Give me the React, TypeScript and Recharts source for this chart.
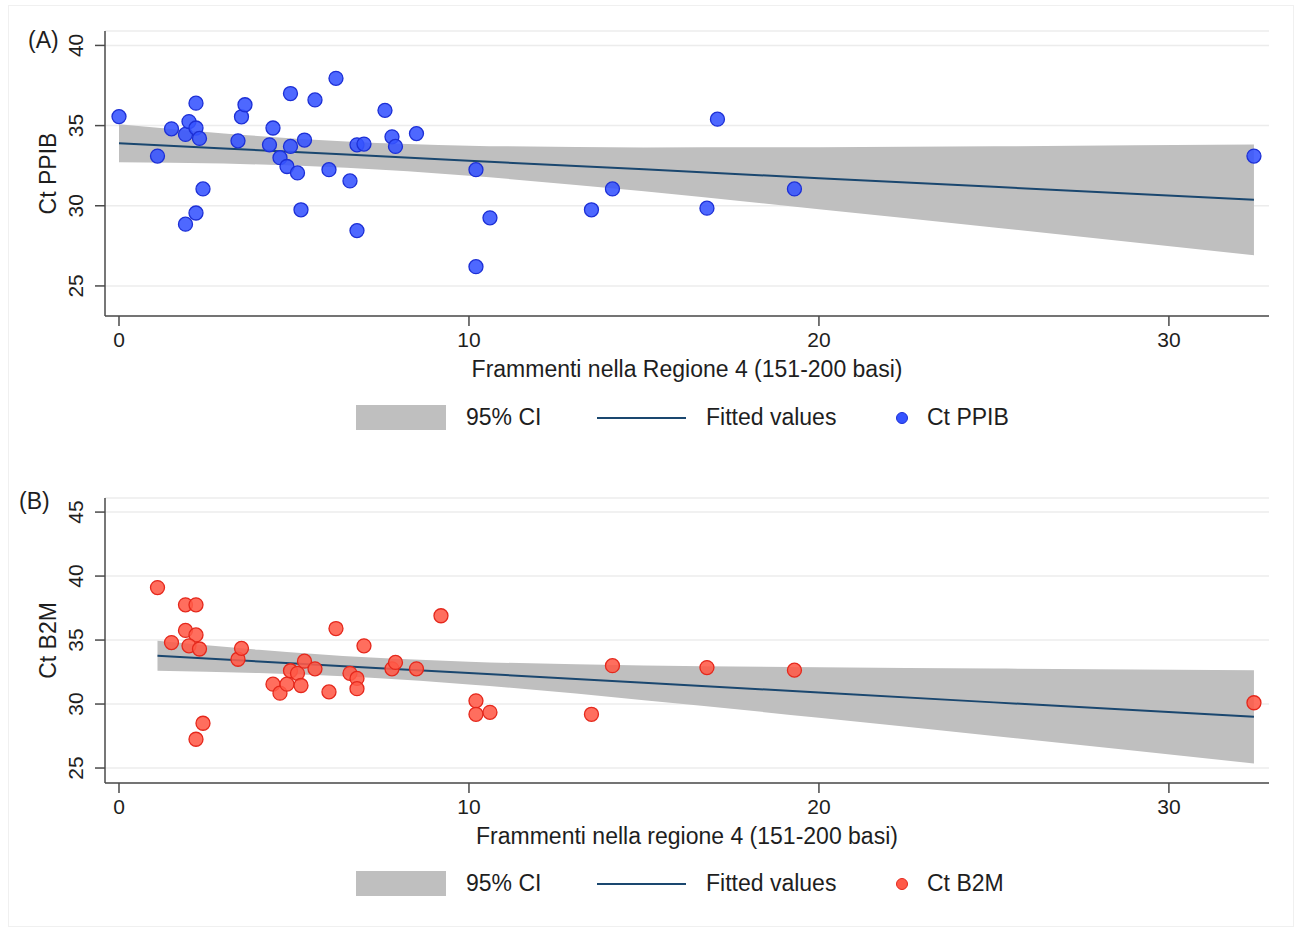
import { ComposedChart, Area, Line, Scatter, XAxis, YAxis, CartesianGrid } from 'recharts';

const FONT = '"Liberation Sans", Arial, Helvetica, sans-serif';
const TEXT = '#1e1e1e';
const AXIS = '#4a4a4a';
const BAND = '#bfbfbf';
const FIT = '#1a476f';

const xTicks = [0, 10, 20, 30];
const ppibTicks = [25, 30, 35, 40];
const b2mTicks = [25, 30, 35, 40, 45];

// (A) Ct PPIB
const ppibPoints = [
  [0, 35.56], [1.1, 33.1], [1.5, 34.8], [1.9, 34.45], [2.0, 35.25], [2.2, 36.4],
  [2.2, 34.85], [2.3, 34.2], [2.4, 31.05], [2.2, 29.55], [1.9, 28.85], [3.4, 34.05],
  [3.5, 35.55], [3.6, 36.3], [4.4, 34.85], [4.3, 33.8], [4.6, 33.0], [4.8, 32.45],
  [4.9, 33.7], [4.9, 37.0], [5.1, 32.05], [5.2, 29.75], [5.3, 34.1], [5.6, 36.6],
  [6.0, 32.25], [6.2, 37.95], [6.6, 31.55], [6.8, 28.45], [6.8, 33.8], [7.0, 33.85],
  [7.6, 35.95], [7.8, 34.3], [7.9, 33.7], [8.5, 34.5], [10.2, 32.25], [10.2, 26.2],
  [10.6, 29.25], [13.5, 29.75], [14.1, 31.05], [16.8, 29.85], [17.1, 35.4], [19.3, 31.05],
  [32.43, 33.1],
];
const ppibBandX = [0, 3, 6.5, 10, 15, 20, 25, 32.43];
const ppibLow = [32.72, 32.63, 32.37, 31.87, 30.9, 29.79, 28.65, 26.92];
const ppibHigh = [35.08, 34.51, 34.01, 33.75, 33.64, 33.65, 33.71, 33.82];
const ppibFit = [33.9, 33.57, 33.19, 32.81, 32.27, 31.72, 31.18, 30.37];

// (B) Ct B2M
const b2mPoints = [
  [1.1, 39.1], [1.5, 34.8], [1.9, 37.75], [2.2, 37.75], [1.9, 35.75], [2.2, 35.4],
  [2.0, 34.55], [2.3, 34.3], [2.4, 28.5], [2.2, 27.25], [3.4, 33.5], [3.5, 34.35],
  [4.4, 31.55], [4.6, 30.85], [4.8, 31.55], [4.9, 32.6], [5.1, 32.4], [5.2, 31.45],
  [5.3, 33.35], [5.6, 32.75], [6.0, 30.95], [6.2, 35.9], [6.6, 32.4], [6.8, 32.0],
  [6.8, 31.2], [7.0, 34.55], [7.8, 32.75], [7.9, 33.25], [8.5, 32.75], [9.2, 36.9],
  [10.2, 30.25], [10.2, 29.2], [10.6, 29.35], [13.5, 29.2], [14.1, 33.0], [16.8, 32.85],
  [19.3, 32.65], [32.43, 30.1],
];
const b2mBandX = [1.1, 4, 7.2, 10, 15, 20, 25, 32.43];
const b2mLow = [32.6, 32.42, 32.05, 31.53, 30.3, 28.93, 27.5, 25.35];
const b2mHigh = [34.94, 34.24, 33.63, 33.31, 33.02, 32.88, 32.77, 32.65];
const b2mFit = [33.77, 33.33, 32.84, 32.42, 31.66, 30.9, 30.13, 29.0];

const YTick = (props: any) => {
  const { x, y, payload } = props;
  const cx = x - 17;
  return (
    <text x={cx} y={y} transform={`rotate(-90 ${cx} ${y})`} textAnchor="middle" dominantBaseline="central"
      fontSize={21} fill={TEXT} fontFamily={FONT}>
      {payload.value}
    </text>
  );
};

interface PanelProps {
  tag: string;
  tagLeft: number;
  tagTop: number;
  top: number;
  plotTop: number;
  points: number[][];
  bandX: number[];
  low: number[];
  high: number[];
  fit: number[];
  yDomain: number[];
  yTicks: number[];
  yLabel: string;
  xLabel: string;
  dotFill: string;
  dotStroke: string;
}

const txt = { position: 'absolute' as const, fontSize: 23, fontFamily: FONT, color: TEXT, lineHeight: '25px', whiteSpace: 'nowrap' as const };

const Panel = (p: PanelProps) => {
  const table = p.bandX.map((x, i) => ({ x, band: [p.low[i], p.high[i]], fit: p.fit[i] }));
  const pts = p.points.map(([x, y]) => ({ x, y }));
  const legendTop = p.top + 405;
  return (
    <>
      <div style={{ ...txt, left: p.tagLeft, top: p.tagTop }}>{p.tag}</div>
      <div style={{ position: 'absolute', left: 0, top: p.top }}>
        <ComposedChart width={1300} height={390} data={table} margin={{ top: p.plotTop, right: 31, left: 45, bottom: 390 - p.plotTop - 285 - 70 }}>
          <CartesianGrid vertical={false} stroke="#ececec" strokeWidth={1.5} />
          <XAxis dataKey="x" type="number" domain={[-0.4, 32.86]} ticks={xTicks} allowDataOverflow
            height={70} tickSize={10} tickMargin={6} stroke={AXIS} strokeWidth={1.5}
            tick={{ fontSize: 21, fill: TEXT, fontFamily: FONT }}
            label={{ value: p.xLabel, position: 'insideBottom', offset: 9, fontSize: 23, fill: TEXT, fontFamily: FONT }} />
          <YAxis type="number" domain={p.yDomain} ticks={p.yTicks} allowDataOverflow width={60}
            tickSize={10} stroke={AXIS} strokeWidth={1.5} tick={<YTick />}
            label={{ value: p.yLabel, angle: -90, position: 'insideLeft', offset: 3, fontSize: 23, fill: TEXT, fontFamily: FONT, style: { textAnchor: 'middle' } }} />
          <Area dataKey="band" type="monotone" fill={BAND} fillOpacity={1} stroke="none" isAnimationActive={false} />
          <Line dataKey="fit" type="linear" stroke={FIT} strokeWidth={2} dot={false} activeDot={false} isAnimationActive={false} />
          <Scatter data={pts} dataKey="y" isAnimationActive={false}
            shape={(s: any) => <circle cx={s.cx} cy={s.cy} r={7} fill={p.dotFill} fillOpacity={0.88} stroke={p.dotStroke} strokeWidth={1.3} />} />
        </ComposedChart>
      </div>
      <div style={{ position: 'absolute', left: 356, top: legendTop, width: 90, height: 25, background: BAND }} />
      <div style={{ ...txt, left: 466, top: legendTop }}>95% CI</div>
      <div style={{ position: 'absolute', left: 597, top: legendTop + 11.5, width: 89, height: 2, background: FIT }} />
      <div style={{ ...txt, left: 706, top: legendTop }}>Fitted values</div>
      <div style={{ position: 'absolute', left: 896, top: legendTop + 6.5, width: 10, height: 10, borderRadius: 6, background: p.dotFill, border: `1px solid ${p.dotStroke}` }} />
      <div style={{ ...txt, left: 927, top: legendTop }}>{p.yLabel}</div>
    </>
  );
};

export default function App() {
  return (
    <div style={{ position: 'absolute', left: 0, top: 0, width: 1300, height: 932, background: '#fff', overflow: 'hidden' }}>
      <div style={{ position: 'absolute', left: 8, top: 5, width: 1284, height: 920, border: '1px solid #f0f0f0' }} />
      <Panel tag="(A)" tagLeft={28} tagTop={28} top={0} plotTop={31} points={ppibPoints} bandX={ppibBandX} low={ppibLow} high={ppibHigh} fit={ppibFit}
        yDomain={[23.125, 40.9]} yTicks={ppibTicks} yLabel="Ct PPIB" xLabel="Frammenti nella Regione 4 (151-200 basi)"
        dotFill="#3553ff" dotStroke="#1c2fd6" />
      <Panel tag="(B)" tagLeft={19} tagTop={489} top={466} plotTop={32} points={b2mPoints} bandX={b2mBandX} low={b2mLow} high={b2mHigh} fit={b2mFit}
        yDomain={[23.83, 46.1]} yTicks={b2mTicks} yLabel="Ct B2M" xLabel="Frammenti nella regione 4 (151-200 basi)"
        dotFill="#ff5a48" dotStroke="#e5281c" />
    </div>
  );
}
